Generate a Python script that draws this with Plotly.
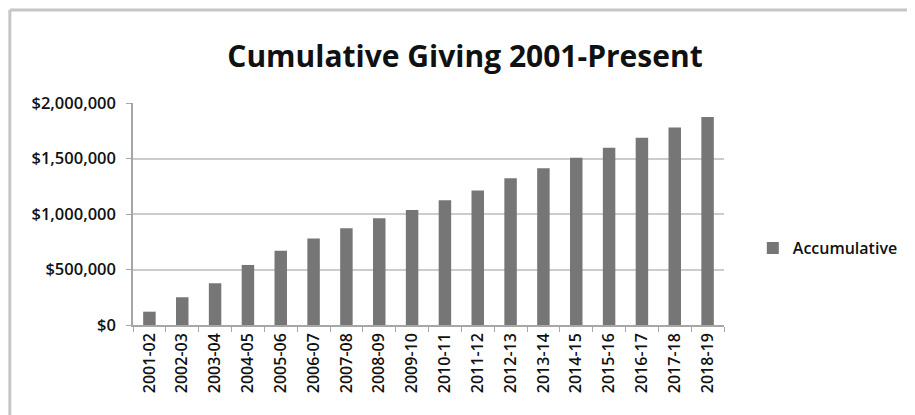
import plotly.graph_objects as go

categories = ["2001-02", "2002-03", "2003-04", "2004-05", "2005-06", "2006-07",
              "2007-08", "2008-09", "2009-10", "2010-11", "2011-12", "2012-13",
              "2013-14", "2014-15", "2015-16", "2016-17", "2017-18", "2018-19"]
accumulative = [120000, 250000, 376000, 541000, 668000, 779000,
                872000, 962000, 1035000, 1125000, 1212000, 1321000,
                1412000, 1506000, 1597000, 1688000, 1779000, 1873000]
y_ticks = [0, 500000, 1000000, 1500000, 2000000]
y_tick_labels = ["$0", "$500,000", "$1,000,000", "$1,500,000", "$2,000,000"]

FONT = "Open Sans"
OFF = 8  # page body margin
W, H = 915 - OFF, 415 - OFF
L, T = 133 - OFF, 103 - OFF
R = W - (728 - OFF)
B = H - (325 - OFF)
pw, ph = W - L - R, H - T - B

fig = go.Figure()
fig.add_trace(go.Bar(x=categories, y=accumulative, name="Accumulative",
                     marker=dict(color="#767676", line=dict(width=0))))

bx = (9 - OFF - L) / pw
ty = 1 + (T - (10 - OFF)) / ph
fig.add_shape(type="line", xref="paper", yref="paper", x0=bx, x1=bx, y0=-1, y1=ty,
              line=dict(color="#c6c6c6", width=3))
fig.add_shape(type="line", xref="paper", yref="paper", x0=bx, x1=2, y0=ty, y1=ty,
              line=dict(color="#c6c6c6", width=3))

fig.update_layout(
    width=W, height=H,
    margin=dict(l=L, r=R, t=T, b=B),
    paper_bgcolor="white", plot_bgcolor="white",
    bargap=0.62,
    showlegend=True,
    title=dict(text="Cumulative Giving 2001-Present", x=(465 - OFF) / W, xanchor="center",
               y=1 - (56 - OFF) / H, yanchor="middle",
               font=dict(family=FONT, size=30, color="#111111", weight="bold")),
    legend=dict(x=(757 - OFF - L) / pw, y=(325 - 248) / ph, xanchor="left", yanchor="middle",
                font=dict(family=FONT, size=16, color="#111111", weight=600),
                itemwidth=30, bgcolor="rgba(0,0,0,0)"),
    xaxis=dict(type="category", tickangle=-90, showgrid=False,
               showline=True, linecolor="#a6a6a6", linewidth=1.5,
               ticks="outside", tickson="boundaries", ticklen=5, tickcolor="#a6a6a6",
               tickfont=dict(family=FONT, size=16, color="#111111", weight=600)),
    yaxis=dict(range=[0, 2000000], tickvals=y_ticks, ticktext=y_tick_labels,
               showgrid=True, gridcolor="#cccccc", gridwidth=2,
               showline=True, linecolor="#a6a6a6", linewidth=1.5,
               ticks="outside", ticklen=5, tickcolor="#a6a6a6", zeroline=False,
               ticklabelstandoff=7,
               tickfont=dict(family=FONT, size=16.5, color="#111111", weight=600)),
)

fig.write_html("out.html")
